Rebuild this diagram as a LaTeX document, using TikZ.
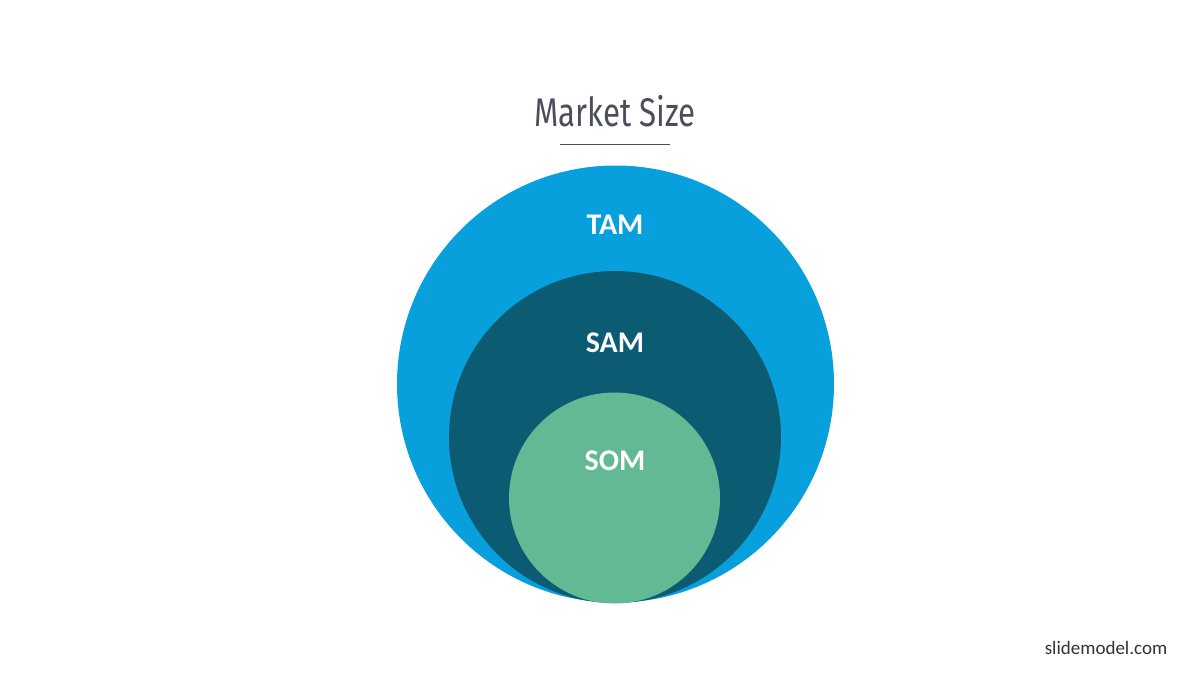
\documentclass[tikz,border=0pt]{standalone}
\usepackage{fontspec}
\setmainfont{Carlito}
\newfontfamily\titlefont[FakeStretch=0.78]{Fira Sans}
\definecolor{tamc}{HTML}{08A0DC}
\definecolor{samc}{HTML}{0B5C73}
\definecolor{somc}{HTML}{62B994}
\definecolor{titc}{HTML}{4A4F5A}
\tikzset{lbl/.style={text=white,font=\fontsize{30}{30}\selectfont\bfseries}}
\begin{document}
\begin{tikzpicture}[x=1pt,y=-1pt]
\useasboundingbox[fill=white] (0,0) rectangle (1200,675);
\fill[tamc] (615.5,384) circle (218.5);
\fill[samc] (615,437) circle (166);
\fill[somc] (614.5,498) circle (105.5);
\node[lbl] (tam) at (615,225) {TAM};
\node[lbl] (sam) at (615,343) {SAM};
\node[lbl] (som) at (615,461) {SOM};
\node[text=titc,font=\titlefont\fontsize{40}{40}\selectfont] (title) at (615,111) {Market Size};
\draw[titc,line width=0.8] (560,144) -- (670,144);
\node[text=black!80,font=\fontsize{19}{19}\selectfont] (sm) at (1106,648) {slidemodel.com};
\end{tikzpicture}
\end{document}
